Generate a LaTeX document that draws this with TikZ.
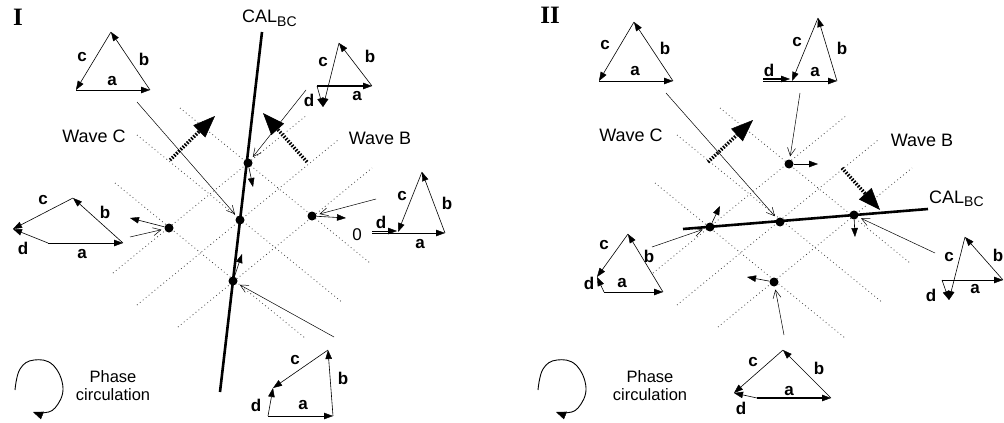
\documentclass[tikz,border=0pt]{standalone}
\usepackage{fontspec}
\setmainfont{Liberation Sans}
\newfontfamily\romfont{Liberation Serif}
\usetikzlibrary{arrows.meta}

\begin{document}
\begin{tikzpicture}[x=1pt, y=-1pt,
  vec/.style={line width=0.6pt, -{Triangle[length=9pt, width=6.5pt, line width=0.4pt]}},
  avec/.style={line width=1.8pt, -{Triangle[length=9pt, width=6.5pt, line width=0.4pt]}},
  dvec/.style={line width=1.6pt, -{Triangle[length=9pt, width=6.5pt, line width=0.4pt]}},
  feed/.style={line width=0.5pt, shorten >=3pt,
    -{Straight Barb[length=8pt, width=8pt, line width=0.5pt]}},
  dotp/.style={circle, fill, inner sep=0pt, minimum size=9pt},
  gridl/.style={black!75, line width=0.8pt, dash pattern=on 0.8pt off 3pt},
  calbc/.style={line width=2.6pt},
  wave/.style={line width=3.5pt, dash pattern=on 1.5pt off 1.5pt,
    -{Triangle[length=22pt, width=17pt, line width=0.5pt]}},
  lab/.style={font=\bfseries\fontsize{17}{17}\selectfont, inner sep=0pt},
  wlab/.style={font=\fontsize{18}{18}\selectfont, inner sep=0pt},
  plab/.style={font=\fontsize{16.5}{18}\selectfont, inner sep=0pt, align=center},
  panel/.style={font=\romfont\bfseries\fontsize{25}{25}\selectfont, inner sep=0pt}]

  \useasboundingbox (0,0) rectangle (1004,423);

  % ---------------- panel I ----------------
  \node[panel] (pI) at (18,17) {I};

  % wave fronts
  \draw[gridl] (180,108) -- (370,263);
  \draw[gridl] (137,135) -- (343,303);
  \draw[gridl] (115,183) -- (305,338);
  \draw[gridl] (113,273) -- (307,115);
  \draw[gridl] (137,305) -- (338,140);
  \draw[gridl] (178,327) -- (372,168);

  \coordinate (IwcS) at (170,160);
  \coordinate (IwcE) at (215,116);
  \coordinate (IwbS) at (307,162);
  \coordinate (IwbE) at (263,113);
  \draw[wave] (IwcS) -- (IwcE);
  \draw[wave] (IwbS) -- (IwbE);
  \node[wlab] (IwcL) at (94,136) {Wave C};
  \node[wlab] (IwbL) at (380,138) {Wave B};

  \coordinate (IcalS) at (262,32);
  \coordinate (IcalE) at (220,392);
  \draw[calbc] (IcalS) -- (IcalE);
  \node[wlab, anchor=base west] (IcalL) at (242,23) {CAL\textsubscript{\fontsize{14}{14}\selectfont BC}};

  \node[dotp] (Itop) at (248,163) {};
  \node[dotp] (Imid) at (240,220) {};
  \node[dotp] (Ileft) at (169,228) {};
  \node[dotp] (Iright) at (312,216) {};
  \node[dotp] (Ibot) at (233,281) {};

  \draw[vec] (Itop) -- ++(5,24);
  \draw[vec] (Ileft) -- ++(-39,-10);
  \draw[vec] (Iright) -- ++(34,2);
  \draw[vec] (Ibot) -- ++(9,-27);

  % top left triangle
  \coordinate (ItlA) at (76,90);
  \coordinate (ItlB) at (150,90);
  \coordinate (ItlC) at (111,32);
  \draw[vec] (ItlA) -- (ItlB);
  \draw[vec] (ItlB) -- (ItlC);
  \draw[vec] (ItlC) -- (ItlA);
  \node[lab] (Itlc) at (82,57) {c};
  \node[lab] (Itlb) at (144,59) {b};
  \node[lab] (Itla) at (112,81) {a};

  % top right triangle
  \coordinate (ItrA) at (317,86);
  \coordinate (ItrB) at (372,86);
  \coordinate (ItrC) at (339,43);
  \coordinate (ItrD) at (323,107);
  \draw[avec] (ItrA) -- (ItrB);
  \draw[vec] (ItrB) -- (ItrC);
  \draw[vec] (ItrC) -- (ItrD);
  \draw[vec] (ItrA) -- (ItrD);
  \node[lab] (Itrc) at (323,62) {c};
  \node[lab] (Itrb) at (370,56) {b};
  \node[lab] (Itrd) at (309,100) {d};
  \node[lab] (Itra) at (357,96) {a};

  % right triangle
  \coordinate (IrA) at (372,233);
  \coordinate (IrB) at (445,233);
  \coordinate (IrC) at (422,172);
  \coordinate (IrD) at (398,232);
  \coordinate (IrE) at (372,231);
  \coordinate (IrF) at (397,231);
  \draw[vec] (IrA) -- (IrB);
  \draw[vec] (IrB) -- (IrC);
  \draw[vec] (IrC) -- (IrD);
  \draw[vec] (IrE) -- (IrF);
  \node[wlab, font=\fontsize{17}{17}\selectfont] (Ir0) at (357,235) {0};
  \node[lab] (Ird) at (381,222) {d};
  \node[lab] (Irc) at (402,196) {c};
  \node[lab] (Irb) at (447,203) {b};
  \node[lab] (Ira) at (420,244) {a};

  % left triangle
  \coordinate (IlA) at (48,243);
  \coordinate (IlB) at (123,243);
  \coordinate (IlC) at (73,198);
  \coordinate (IlD) at (13,229);
  \draw[vec] (IlA) -- (IlB);
  \draw[vec] (IlB) -- (IlC);
  \draw[vec] (IlC) -- (IlD);
  \draw[vec] (IlA) -- (IlD);
  \node[lab] (Ilc) at (43,200) {c};
  \node[lab] (Ilb) at (105,212) {b};
  \node[lab] (Ild) at (23,248) {d};
  \node[lab] (Ila) at (82,254) {a};

  % bottom triangle
  \coordinate (IbA) at (268,416);
  \coordinate (IbB) at (333,416);
  \coordinate (IbC) at (328,350);
  \coordinate (IbD) at (273,388);
  \draw[vec] (IbA) -- (IbB);
  \draw[vec] (IbB) -- (IbC);
  \draw[vec] (IbC) -- (IbD);
  \draw[vec] (IbA) -- (IbD);
  \node[lab] (Ibc) at (295,360) {c};
  \node[lab] (Ibb) at (343,378) {b};
  \node[lab] (Ibd) at (256,405) {d};
  \node[lab] (Iba) at (303,405) {a};

  % feeds
  \coordinate (IfTl) at (137,102);
  \coordinate (IfTr) at (306,90);
  \coordinate (IfL) at (130,237);
  \coordinate (IfR) at (376,199);
  \coordinate (IfB) at (334,337);
  \draw[feed] (IfTl) -- (Imid);
  \draw[feed] (IfTr) -- (Itop);
  \draw[feed] (IfL) -- (Ileft);
  \draw[feed] (IfR) -- (Iright);
  \draw[feed] (IfB) -- (Ibot);

  % phase circulation
  \draw[line width=0.9pt, -{Triangle[length=10pt, width=8pt, line width=0.4pt]}]
    plot[smooth, tension=0.7] coordinates {(15,390) (20,369) (34,360) (53,365) (63,388) (55,408) (42,413) (33,412)};
  \node[plab] (IpL) at (113,386) {Phase\\circulation};

  % ---------------- panel II ----------------
  \node[panel] (pII) at (550,15) {II};

  \draw[gridl] (720,108) -- (910,263);
  \draw[gridl] (677,135) -- (883,303);
  \draw[gridl] (655,183) -- (845,338);
  \draw[gridl] (653,273) -- (847,115);
  \draw[gridl] (677,305) -- (878,140);
  \draw[gridl] (718,327) -- (912,168);

  \coordinate (IIwcS) at (708,162);
  \coordinate (IIwcE) at (753,120);
  \coordinate (IIwbS) at (842,168);
  \coordinate (IIwbE) at (880,210);
  \draw[wave] (IIwcS) -- (IIwcE);
  \draw[wave] (IIwbS) -- (IIwbE);
  \node[wlab] (IIwcL) at (631,135) {Wave C};
  \node[wlab] (IIwbL) at (922,140) {Wave B};

  \coordinate (IIcalS) at (683,229);
  \coordinate (IIcalE) at (928,209);
  \draw[calbc] (IIcalS) -- (IIcalE);
  \node[wlab, anchor=base west] (IIcalL) at (929,203) {CAL\textsubscript{\fontsize{14}{14}\selectfont BC}};

  \node[dotp] (IItop) at (789,164) {};
  \node[dotp] (IImid) at (780,222) {};
  \node[dotp] (IIleft) at (710,227) {};
  \node[dotp] (IIright) at (854,215) {};
  \node[dotp] (IIbot) at (774,282) {};

  \draw[vec] (IItop) -- ++(29,0);
  \draw[vec] (IIleft) -- ++(10,-21);
  \draw[vec] (IIright) -- ++(1,22);
  \draw[vec] (IIbot) -- ++(-27,-5);

  % top left triangle
  \coordinate (IItlA) at (599,81);
  \coordinate (IItlB) at (673,81);
  \coordinate (IItlC) at (634,22);
  \draw[vec] (IItlA) -- (IItlB);
  \draw[vec] (IItlB) -- (IItlC);
  \draw[vec] (IItlC) -- (IItlA);
  \node[lab] (IItlc) at (605,45) {c};
  \node[lab] (IItlb) at (665,48) {b};
  \node[lab] (IItla) at (635,71) {a};

  % top right triangle
  \coordinate (IItrA) at (763,81);
  \coordinate (IItrB) at (837,81);
  \coordinate (IItrC) at (818,18);
  \coordinate (IItrD) at (792,81);
  \coordinate (IItrE) at (763,79);
  \coordinate (IItrF) at (790,79);
  \draw[vec] (IItrA) -- (IItrB);
  \draw[vec] (IItrB) -- (IItrC);
  \draw[vec] (IItrC) -- (IItrD);
  \draw[dvec] (IItrE) -- (IItrF);
  \node[lab] (IItrc) at (797,42) {c};
  \node[lab] (IItrb) at (842,48) {b};
  \node[lab] (IItrd) at (769,70) {d};
  \node[lab] (IItra) at (815,72) {a};

  % right triangle
  \coordinate (IIrA) at (942,280);
  \coordinate (IIrB) at (1003,280);
  \coordinate (IIrC) at (965,237);
  \coordinate (IIrD) at (949,300);
  \draw[vec] (IIrA) -- (IIrB);
  \draw[vec] (IIrB) -- (IIrC);
  \draw[vec] (IIrC) -- (IIrD);
  \draw[vec] (IIrA) -- (IIrD);
  \node[lab] (IIrc) at (949,257) {c};
  \node[lab] (IIrb) at (998,255) {b};
  \node[lab] (IIrd) at (931,295) {d};
  \node[lab] (IIra) at (975,289) {a};

  % left triangle
  \coordinate (IIlA) at (604,292);
  \coordinate (IIlB) at (663,292);
  \coordinate (IIlC) at (628,234);
  \coordinate (IIlD) at (597,277);
  \draw[vec] (IIlA) -- (IIlB);
  \draw[vec] (IIlB) -- (IIlC);
  \draw[vec] (IIlC) -- (IIlD);
  \draw[vec] (IIlA) -- (IIlD);
  \node[lab] (IIlc) at (604,245) {c};
  \node[lab] (IIlb) at (649,256) {b};
  \node[lab] (IIld) at (589,283) {d};
  \node[lab] (IIla) at (622,283) {a};

  % bottom triangle
  \coordinate (IIbA) at (757,398);
  \coordinate (IIbB) at (831,398);
  \coordinate (IIbC) at (783,350);
  \coordinate (IIbD) at (734,393);
  \draw[avec] (IIbA) -- (IIbB);
  \draw[vec] (IIbB) -- (IIbC);
  \draw[vec] (IIbC) -- (IIbD);
  \draw[vec] (IIbA) -- (IIbD);
  \node[lab] (IIbc) at (753,362) {c};
  \node[lab] (IIbb) at (819,368) {b};
  \node[lab] (IIbd) at (741,408) {d};
  \node[lab] (IIba) at (789,391) {a};

  % feeds
  \coordinate (IIfTl) at (666,93);
  \coordinate (IIfTr) at (800,93);
  \coordinate (IIfL) at (652,247);
  \coordinate (IIfR) at (935,253);
  \coordinate (IIfB) at (784,335);
  \draw[feed] (IIfTl) -- (IImid);
  \draw[feed] (IIfTr) -- (IItop);
  \draw[feed] (IIfL) -- (IIleft);
  \draw[feed] (IIfR) -- (IIright);
  \draw[feed] (IIfB) -- (IIbot);

  % phase circulation
  \draw[line width=0.9pt, -{Triangle[length=10pt, width=8pt, line width=0.4pt]}]
    plot[smooth, tension=0.7] coordinates {(538,390) (543,369) (557,360) (576,365) (586,388) (578,408) (565,413) (556,412)};
  \node[plab] (IIpL) at (650,386) {Phase\\circulation};

\end{tikzpicture}
\end{document}
